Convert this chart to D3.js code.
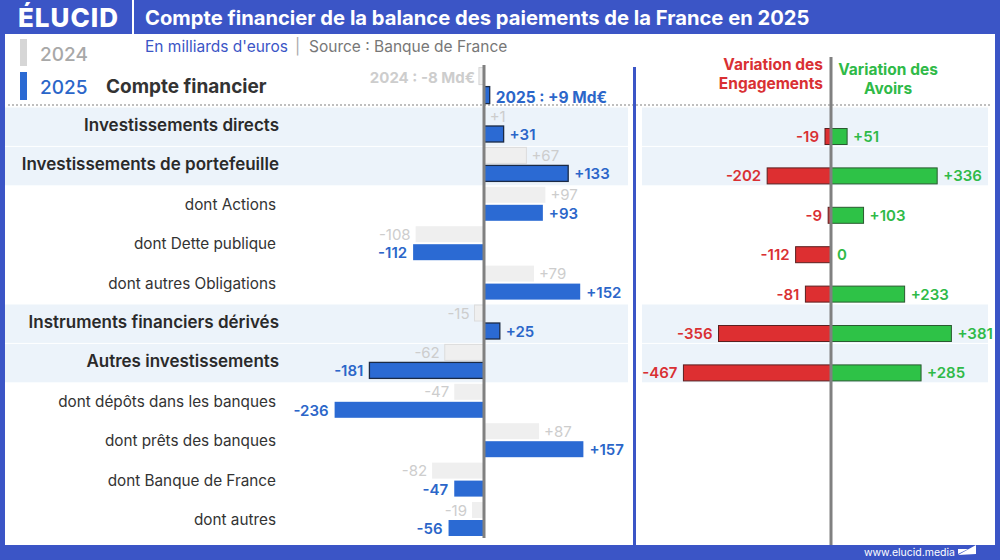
<!DOCTYPE html>
<html><head><meta charset="utf-8">
<script src="https://cdn.jsdelivr.net/npm/d3@7"></script>
<style>html,body{margin:0;padding:0;background:#fff;}svg{display:block;font-family:Inter,Lato,sans-serif;}</style>
</head><body><svg id="c" width="1000" height="560"></svg>
<script>
const categories = ["Investissements directs","Investissements de portefeuille","dont Actions","dont Dette publique","dont autres Obligations","Instruments financiers dérivés","Autres investissements","dont dépôts dans les banques","dont prêts des banques","dont Banque de France","dont autres"];
const isMain = [true,true,false,false,false,true,true,false,false,false,false];
const values2024 = [1,67,97,-108,79,-15,-62,-47,87,-82,-19];
const values2025 = [31,133,93,-112,152,25,-181,-236,157,-47,-56];
const engagements = [-19,-202,-9,-112,-81,-356,-467];
const avoirs = [51,336,103,0,233,381,285];
const total2024 = -8, total2025 = 9;

const BLUE = "#3b55c6", BAR = "#2b6ad3", TXT25 = "#2b66c9", G24 = "#efefef", T24 = "#cdcdcd";
const RED = "#dd2f31", GREEN = "#2ec247", REDT = "#d93033", GREENT = "#2fba48";
const svg = d3.select("#c");
const fmt = v => (v > 0 ? "+" : "") + v;

// frame
svg.append("rect").attr("x",0).attr("y",0).attr("width",1000).attr("height",560).attr("fill",BLUE);
svg.append("rect").attr("x",5).attr("y",34).attr("width",990).attr("height",511).attr("fill","#fff");
// header
svg.append("text").attr("x",18).attr("y",27).attr("fill","#fff").attr("font-size",26).attr("font-weight",800).attr("letter-spacing",1).text("ÉLUCID");
svg.append("rect").attr("x",132).attr("y",0).attr("width",2).attr("height",34).attr("fill","#fff");
svg.append("text").attr("x",145).attr("y",25).attr("fill","#fff").attr("font-size",20.2).attr("font-weight",700).text("Compte financier de la balance des paiements de la France en 2025");
// footer
svg.append("text").attr("x",955).attr("y",556).attr("text-anchor","end").attr("fill","#fff").attr("font-size",10.5).text("www.elucid.media");
svg.append("path").attr("d","M958,555 L976,545 L976,554 Z M958,549 L968,549 L958,554 Z").attr("fill","#fff");

// subtitle
const sub = svg.append("text").attr("y",52).attr("font-size",15.5);
sub.append("tspan").attr("x",145).attr("fill",BLUE).text("En milliards d'euros");
sub.append("tspan").attr("x",295).attr("fill","#aaa").text("|");
sub.append("tspan").attr("x",309).attr("fill","#777").text("Source : Banque de France");

// legend
svg.append("rect").attr("x",20).attr("y",39).attr("width",7).attr("height",27).attr("fill","#d6d6d6");
svg.append("rect").attr("x",20).attr("y",72).attr("width",7).attr("height",28).attr("fill",BAR);
svg.append("text").attr("x",40).attr("y",61).attr("fill","#a8a8a8").attr("font-size",19).attr("font-weight",500).text("2024");
svg.append("text").attr("x",40).attr("y",94).attr("fill",TXT25).attr("font-size",19).attr("font-weight",500).text("2025");
svg.append("text").attr("x",106).attr("y",93).attr("fill","#333").attr("font-size",19).attr("font-weight",700).text("Compte financier");

// rows
const rowH = 39.4, top0 = 107;
const rowTop = i => top0 + i*rowH;

// highlight bands
categories.forEach((c,i)=>{
  if(isMain[i]){
    svg.append("rect").attr("x",5).attr("y",rowTop(i)+0.5).attr("width",623).attr("height",rowH-1).attr("fill","#ecf3fa");
    if(i < engagements.length) svg.append("rect").attr("x",642).attr("y",rowTop(i)+0.5).attr("width",346).attr("height",rowH-1).attr("fill","#ecf3fa");
  }
});
// dotted line
svg.append("line").attr("x1",8).attr("x2",992).attr("y1",105).attr("y2",105).attr("stroke","#aaa").attr("stroke-width",1.5).attr("stroke-dasharray","2,2");

// left scale
const x = d3.scaleLinear().domain([-250,250]).range([484-158.25,484+158.25]);
const x0 = x(0);

// category labels
categories.forEach((c,i)=>{
  svg.append("text").attr("x",isMain[i]?279:276).attr("y",rowTop(i)+24).attr("text-anchor","end")
    .attr("fill",isMain[i]?"#2a2a2a":"#333").attr("font-size",isMain[i]?17:15.3).attr("font-weight",isMain[i]?600:400).text(c);
});

// 2024 bars
const g24 = svg.append("g");
g24.selectAll("rect").data(values2024).join("rect")
  .attr("x",d=>Math.min(x(d),x0)).attr("width",d=>Math.abs(x(d)-x0))
  .attr("y",(d,i)=>rowTop(i)+1).attr("height",16).attr("fill",G24)
  .attr("stroke",(d,i)=>isMain[i]?"#dcdcdc":"none").attr("stroke-width",1);
g24.selectAll("text").data(values2024).join("text")
  .attr("x",d=>d>=0?x(d)+5:x(d)-5).attr("text-anchor",d=>d>=0?"start":"end")
  .attr("y",(d,i)=>rowTop(i)+14.5).attr("fill",T24).attr("font-size",15).text(fmt);

// 2025 bars
const g25 = svg.append("g");
g25.selectAll("rect").data(values2025).join("rect")
  .attr("x",d=>Math.min(x(d),x0)).attr("width",d=>Math.abs(x(d)-x0))
  .attr("y",(d,i)=>rowTop(i)+19).attr("height",16).attr("fill",BAR)
  .attr("stroke",(d,i)=>isMain[i]?"#1b2a45":"none").attr("stroke-width",1.3);
g25.selectAll("text").data(values2025).join("text")
  .attr("x",d=>d>=0?x(d)+6:x(d)-6).attr("text-anchor",d=>d>=0?"start":"end")
  .attr("y",(d,i)=>rowTop(i)+33).attr("fill",TXT25).attr("font-size",15).attr("font-weight",600).text(fmt);

// totals row
const tTop = top0 - rowH;
svg.append("rect").attr("x",Math.min(x(total2024),x0)).attr("width",Math.abs(x(total2024)-x0)).attr("y",tTop).attr("height",17).attr("fill",G24).attr("stroke","#d4d4d4");
svg.append("text").attr("x",x(total2024)-4).attr("y",tTop+15).attr("text-anchor","end").attr("fill",T24).attr("font-size",15).attr("font-weight",700).text("2024 : " + total2024 + " Md€");
svg.append("rect").attr("x",x0).attr("width",x(total2025)-x0).attr("y",tTop+19).attr("height",17).attr("fill",BAR).attr("stroke","#1b2a45").attr("stroke-width",1.3);
svg.append("text").attr("x",x(total2025)+6).attr("y",tTop+35).attr("fill",TXT25).attr("font-size",15.5).attr("font-weight",700).text("2025 : +" + total2025 + " Md€");

// left axis
svg.append("line").attr("x1",x0).attr("x2",x0).attr("y1",65).attr("y2",538).attr("stroke","#808080").attr("stroke-width",3);

// divider
svg.append("rect").attr("x",633).attr("y",67).attr("width",3).attr("height",478).attr("fill",BLUE);

// right scale
const xr = d3.scaleLinear().domain([-500,500]).range([831-158,831+158]);
const xr0 = xr(0);
const ge = svg.append("g");
ge.selectAll("rect").data(engagements).join("rect")
  .attr("x",d=>xr(d)).attr("width",d=>xr0-xr(d)).attr("y",(d,i)=>rowTop(i)+21.5).attr("height",16)
  .attr("fill",RED).attr("stroke",d=>d===0?"none":"#5a2020").attr("stroke-width",1);
ge.selectAll("text").data(engagements).join("text")
  .attr("x",d=>xr(d)-6).attr("text-anchor","end").attr("y",(d,i)=>rowTop(i)+35).attr("fill",REDT)
  .attr("font-size",15).attr("font-weight",600).text(fmt);
const ga = svg.append("g");
ga.selectAll("rect").data(avoirs).join("rect")
  .attr("x",xr0).attr("width",d=>xr(d)-xr0).attr("y",(d,i)=>rowTop(i)+21.5).attr("height",16)
  .attr("fill",GREEN).attr("stroke",d=>d===0?"none":"#2a5a30").attr("stroke-width",1);
ga.selectAll("text").data(avoirs).join("text")
  .attr("x",d=>xr(d)+6).attr("y",(d,i)=>rowTop(i)+35).attr("fill",GREENT)
  .attr("font-size",15).attr("font-weight",600).text(fmt);

// right headers
const he = svg.append("text").attr("text-anchor","end").attr("fill",REDT).attr("font-size",15.5).attr("font-weight",700);
he.append("tspan").attr("x",823).attr("y",70).text("Variation des");
he.append("tspan").attr("x",823).attr("y",89).text("Engagements");
const ha = svg.append("text").attr("text-anchor","middle").attr("fill",GREENT).attr("font-size",15.5).attr("font-weight",700);
ha.append("tspan").attr("x",888).attr("y",75).text("Variation des");
ha.append("tspan").attr("x",888).attr("y",94).text("Avoirs");

// right axis
svg.append("line").attr("x1",xr0).attr("x2",xr0).attr("y1",57).attr("y2",545).attr("stroke","#808080").attr("stroke-width",3);
</script></body></html>
